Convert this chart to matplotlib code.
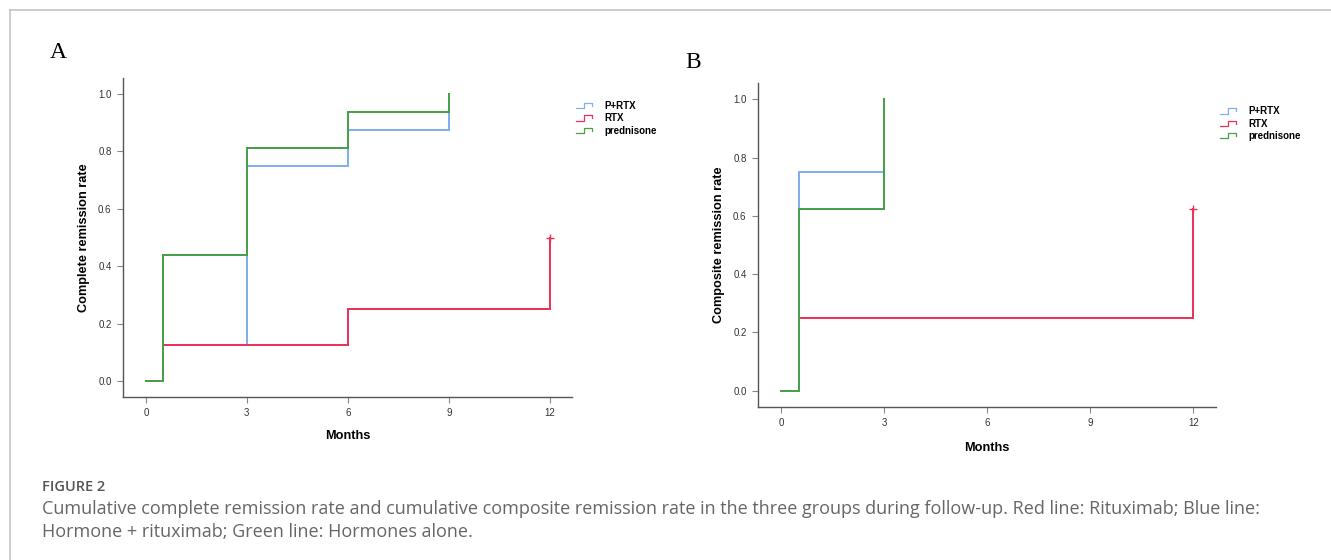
import matplotlib
matplotlib.use("Agg")
from matplotlib import pyplot as plt
from matplotlib.lines import Line2D
from matplotlib.legend_handler import HandlerBase

###--- Data ---###
groups = ["P+RTX", "RTX", "prednisone"]
colors = ["#7eb0ee", "#ea3358", "#4aa04a"]

# panel A - complete remission
a_times_prtx = [0, 0.5, 3, 6, 9]
a_rate_prtx = [0, 0.125, 0.75, 0.875, 1.0]
a_times_rtx = [0, 0.5, 6, 12]
a_rate_rtx = [0, 0.125, 0.25, 0.5]
a_times_pred = [0, 0.5, 3, 6, 9]
a_rate_pred = [0, 0.4375, 0.8125, 0.9375, 1.0]

# panel B - composite remission
b_times_prtx = [0, 0.5, 3]
b_rate_prtx = [0, 0.75, 1.0]
b_times_rtx = [0, 0.5, 12]
b_rate_rtx = [0, 0.25, 0.625]
b_times_pred = [0, 0.5, 3]
b_rate_pred = [0, 0.625, 1.0]

xticks = [0, 3, 6, 9, 12]
yticks = [0.0, 0.2, 0.4, 0.6, 0.8, 1.0]

caption_title = "FIGURE 2"
caption_lines = ["Cumulative complete remission rate and cumulative composite remission rate in the three groups during follow-up. Red line: Rituximab; Blue line:",
                 "Hormone + rituximab; Green line: Hormones alone."]

W, H = 1331, 560
sans = ["Liberation Sans", "DejaVu Sans"]


class StepHandler(HandlerBase):
    # small step glyph like the SPSS legend
    def create_artists(self, legend, orig_handle, xdescent, ydescent, width, height, fontsize, trans):
        xs = [0, 0.5*width, 0.5*width, width, width]
        ys = [0.15*height, 0.15*height, 0.85*height, 0.85*height, 0.45*height]
        ln = Line2D([x - xdescent for x in xs], [y - ydescent for y in ys],
                    color=orig_handle.get_color(), lw=0.9, transform=trans)
        return [ln]


def panel(ax, series, ylabel, ylab_x, xlab_y):
    handles = []
    for (t, r), c in zip(series, colors):
        h, = ax.step(t, r, where="post", color=c, lw=1.1, antialiased=False)
        handles.append(h)
    # censored point at end of RTX follow-up
    t, r = series[1]
    ax.plot(t[-1], r[-1], marker="+", color=colors[1], ms=6, mew=1.0)
    ax.set_xlim(-0.68, 12.66)
    ax.set_ylim(-0.056, 1.056)
    ax.set_xticks(xticks)
    ax.set_yticks(yticks)
    ax.set_yticklabels(["%.1f" % v for v in yticks])
    for s in ["top", "right"]:
        ax.spines[s].set_visible(False)
    for s in ["left", "bottom"]:
        ax.spines[s].set_color("#555555")
        ax.spines[s].set_linewidth(1.0)
    ax.tick_params(length=4, width=0.8, color="#888888", labelsize=7, labelcolor="#333333")
    ax.tick_params(axis="y", pad=4.2)
    ax.tick_params(axis="x", pad=3.6)
    for lab in ax.get_xticklabels() + ax.get_yticklabels():
        lab.set_family(sans)
    ax.set_xlabel("Months", fontsize=9.2, fontweight="bold", family=sans)
    ax.set_ylabel(ylabel, fontsize=9.2, fontweight="bold", family=sans)
    ax.yaxis.set_label_coords(ylab_x, 0.5)
    ax.xaxis.set_label_coords(0.5, xlab_y)
    leg = ax.legend(handles, groups, loc="upper left", bbox_to_anchor=(1.0, 0.94),
                    frameon=False, handler_map={Line2D: StepHandler()},
                    prop={"size": 7, "weight": "bold", "family": sans}, handlelength=1.7,
                    handleheight=0.8, handletextpad=1.2, labelspacing=0.25, borderaxespad=0)
    return leg


fig = plt.figure(figsize=(W/100, H/100), dpi=100)
axA = fig.add_axes([123/W, 1-397/H, 449/W, 319/H])
axB = fig.add_axes([758/W, 1-407/H, 458/W, 324/H])

panel(axA, [(a_times_prtx, a_rate_prtx), (a_times_rtx, a_rate_rtx), (a_times_pred, a_rate_pred)],
      "Complete remission rate", -0.0726, -0.103)
panel(axB, [(b_times_prtx, b_rate_prtx), (b_times_rtx, b_rate_rtx), (b_times_pred, b_rate_pred)],
      "Composite remission rate", -0.073, -0.108)

fig.text(58/W, 1-52/H, "A", family="Liberation Serif", fontsize=17, ha="center", va="center")
fig.text(693/W, 1-62/H, "B", family="Liberation Serif", fontsize=17, ha="center", va="center")

# frame of the figure box
fig.add_artist(Line2D([10/W, 1], [1-10/H, 1-10/H], color="#c4c4c4", lw=1.2, transform=fig.transFigure))
fig.add_artist(Line2D([10/W, 10/W], [0, 1-10/H], color="#c4c4c4", lw=1.2, transform=fig.transFigure))

fig.text(42/W, 1-487/H, caption_title, family="Open Sans", fontweight="semibold",
         fontsize=10.5, color="#555555", va="center")
fig.text(42/W, 1-509/H, caption_lines[0], family="Open Sans", fontsize=12.95, color="#666666", va="center")
fig.text(42/W, 1-532/H, caption_lines[1], family="Open Sans", fontsize=12.95, color="#666666", va="center")

plt.savefig("out.png", dpi=100)
plt.close()
